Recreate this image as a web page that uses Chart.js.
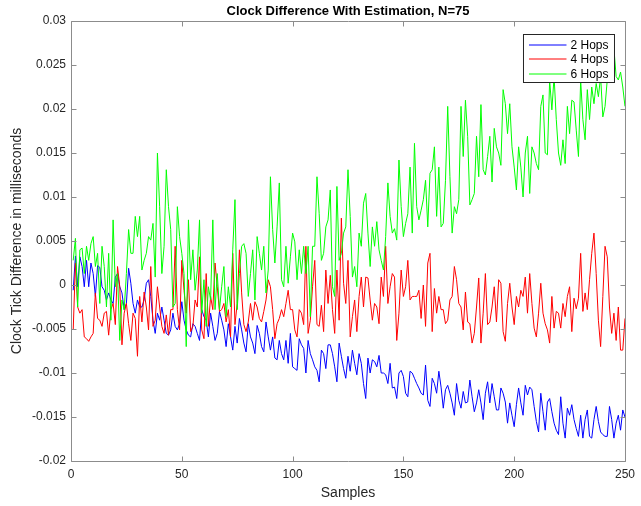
<!DOCTYPE html>
<html><head><meta charset="utf-8">
<script src="https://cdn.jsdelivr.net/npm/chart.js@4.4.1/dist/chart.umd.min.js"></script>
<style>html,body{margin:0;padding:0;background:#fff;}canvas{display:block;}</style>
</head><body>
<canvas id="c" width="641" height="506"></canvas>
<script>
const seriesNames = ['2 Hops', '4 Hops', '6 Hops'];
const hops2 = [
-0.0006,0.0033,-0.0002,0.0032,0.0021,-0.0002,0.0028,-0.0002,0.0025,0.0013,
-0.0013,0.0022,0.0020,-0.0002,-0.0006,-0.0017,-0.0009,-0.0017,-0.0021,0.0009,
0.0013,-0.0002,-0.0009,-0.0028,-0.0021,0.0019,0.0002,-0.0021,-0.0032,-0.0017,
-0.0025,-0.0025,-0.0017,0.0002,0.0006,-0.0013,-0.0040,-0.0055,-0.0032,-0.0040,
-0.0025,-0.0040,-0.0055,-0.0057,-0.0051,-0.0032,-0.0047,-0.0051,-0.0044,-0.0019,
-0.0040,-0.0051,-0.0057,-0.0059,-0.0044,-0.0047,-0.0055,-0.0063,-0.0028,-0.0036,
-0.0040,-0.0059,-0.0032,-0.0047,-0.0063,-0.0055,-0.0030,-0.0040,-0.0051,-0.0070,
-0.0044,-0.0059,-0.0074,-0.0047,-0.0066,-0.0038,-0.0051,-0.0066,-0.0076,-0.0044,
-0.0059,-0.0066,-0.0078,-0.0046,-0.0055,-0.0070,-0.0076,-0.0042,-0.0059,-0.0074,
-0.0059,-0.0083,-0.0085,-0.0063,-0.0078,-0.0085,-0.0063,-0.0089,-0.0055,-0.0093,
-0.0095,-0.0097,-0.0061,-0.0068,-0.0072,-0.0100,-0.0063,-0.0078,-0.0085,-0.0093,
-0.0097,-0.0110,-0.0074,-0.0078,-0.0095,-0.0068,-0.0068,-0.0078,-0.0093,-0.0110,
-0.0066,-0.0081,-0.0095,-0.0106,-0.0081,-0.0098,-0.0074,-0.0089,-0.0102,-0.0078,
-0.0089,-0.0112,-0.0129,-0.0083,-0.0100,-0.0085,-0.0087,-0.0093,-0.0080,-0.0100,
-0.0100,-0.0102,-0.0112,-0.0089,-0.0117,-0.0116,-0.0129,-0.0100,-0.0097,-0.0104,
-0.0123,-0.0127,-0.0098,-0.0100,-0.0106,-0.0112,-0.0117,-0.0123,-0.0125,-0.0091,
-0.0131,-0.0138,-0.0106,-0.0112,-0.0123,-0.0098,-0.0116,-0.0140,-0.0119,-0.0114,
-0.0123,-0.0134,-0.0148,-0.0112,-0.0131,-0.0140,-0.0121,-0.0134,-0.0133,-0.0108,
-0.0127,-0.0144,-0.0134,-0.0119,-0.0134,-0.0153,-0.0123,-0.0110,-0.0134,-0.0112,
-0.0127,-0.0142,-0.0142,-0.0117,-0.0123,-0.0133,-0.0157,-0.0134,-0.0148,-0.0161,
-0.0136,-0.0117,-0.0134,-0.0148,-0.0114,-0.0125,-0.0116,-0.0119,-0.0138,-0.0155,
-0.0167,-0.0123,-0.0144,-0.0165,-0.0133,-0.0129,-0.0144,-0.0157,-0.0165,-0.0170,
-0.0127,-0.0157,-0.0174,-0.0140,-0.0148,-0.0136,-0.0153,-0.0163,-0.0172,-0.0148,
-0.0174,-0.0153,-0.0142,-0.0172,-0.0174,-0.0153,-0.0138,-0.0155,-0.0167,-0.0170,
-0.0172,-0.0172,-0.0138,-0.0153,-0.0174,-0.0157,-0.0148,-0.0165,-0.0142,-0.0150
];
const hops4 = [
-0.0051,0.0025,-0.0025,-0.0032,-0.0028,-0.0059,-0.0061,-0.0064,-0.0059,-0.0055,
-0.0009,-0.0038,-0.0040,-0.0047,-0.0032,-0.0030,-0.0057,-0.0028,-0.0021,-0.0045,
0.0021,-0.0002,-0.0068,-0.0032,-0.0021,-0.0044,-0.0063,-0.0032,-0.0038,-0.0081,
-0.0013,-0.0042,-0.0008,-0.0025,-0.0051,0.0021,-0.0047,-0.0040,-0.0002,-0.0025,
-0.0047,-0.0055,-0.0034,-0.0057,-0.0028,-0.0028,0.0044,-0.0028,-0.0051,0.0028,
-0.0006,-0.0032,0.0006,-0.0053,-0.0047,-0.0017,-0.0025,0.0032,-0.0051,-0.0061,
0.0013,-0.0047,-0.0013,-0.0028,0.0025,-0.0002,-0.0030,-0.0028,-0.0021,-0.0042,
-0.0028,-0.0059,0.0036,-0.0045,-0.0021,0.0040,-0.0009,-0.0045,-0.0053,-0.0042,
-0.0021,-0.0040,-0.0019,-0.0025,-0.0038,-0.0042,-0.0030,-0.0017,0.0006,-0.0002,
-0.0028,-0.0061,-0.0044,-0.0038,-0.0028,-0.0036,-0.0021,-0.0006,-0.0028,-0.0028,
-0.0051,-0.0059,-0.0028,-0.0032,-0.0045,0.0044,-0.0055,-0.0040,-0.0002,0.0028,
-0.0045,-0.0047,-0.0023,-0.0053,0.0017,-0.0021,0.0011,-0.0028,-0.0055,0.0017,
-0.0040,0.0076,0.0002,-0.0021,0.0028,-0.0059,-0.0036,-0.0017,-0.0053,-0.0013,
0.0009,-0.0025,0.0009,0.0008,-0.0017,-0.0040,-0.0021,-0.0025,-0.0044,0.0009,
-0.0013,0.0044,-0.0021,-0.0002,0.0013,0.0009,-0.0063,-0.0032,0.0017,-0.0013,
-0.0002,0.0028,-0.0017,-0.0013,-0.0013,-0.0013,-0.0006,-0.0038,0.0000,-0.0047,
0.0025,0.0036,-0.0053,-0.0004,-0.0032,-0.0013,-0.0028,-0.0028,-0.0044,-0.0040,
-0.0017,-0.0013,0.0021,0.0006,-0.0021,-0.0025,-0.0051,-0.0008,-0.0042,-0.0044,
-0.0066,-0.0055,-0.0025,0.0008,-0.0066,-0.0032,0.0013,-0.0045,-0.0042,-0.0025,
-0.0002,-0.0042,0.0006,0.0002,-0.0053,-0.0064,-0.0021,0.0002,-0.0025,-0.0045,
-0.0013,-0.0025,-0.0006,-0.0013,0.0009,-0.0032,0.0013,-0.0021,-0.0049,-0.0059,
-0.0032,0.0002,-0.0032,-0.0044,-0.0051,-0.0066,-0.0013,-0.0049,-0.0030,-0.0032,
-0.0049,-0.0021,-0.0036,-0.0013,-0.0002,-0.0053,-0.0015,-0.0027,-0.0015,0.0036,
-0.0030,-0.0009,-0.0028,0.0006,0.0036,0.0059,0.0013,-0.0040,-0.0070,-0.0013,
0.0044,0.0032,-0.0025,-0.0055,-0.0032,-0.0063,-0.0025,-0.0074,-0.0074,-0.0038
];
const hops6 = [
0.0028,0.0053,-0.0025,0.0040,0.0042,0.0013,0.0044,0.0028,0.0047,0.0055,
0.0021,0.0036,-0.0021,0.0044,0.0021,-0.0025,0.0036,-0.0040,0.0074,-0.0002,
0.0013,-0.0063,-0.0017,-0.0028,0.0013,0.0063,0.0036,0.0036,0.0078,0.0055,
0.0078,0.0017,0.0028,0.0036,0.0055,0.0051,0.0070,0.0009,0.0150,0.0089,
0.0013,0.0044,0.0131,0.0089,0.0063,-0.0025,-0.0021,0.0089,0.0055,0.0036,
0.0013,-0.0070,0.0074,0.0006,0.0040,-0.0006,0.0017,0.0074,-0.0032,0.0006,
-0.0047,-0.0002,-0.0017,0.0074,-0.0028,0.0013,-0.0028,-0.0002,0.0021,-0.0036,
-0.0002,-0.0025,0.0040,0.0097,-0.0028,0.0013,0.0044,0.0047,0.0036,-0.0013,
0.0013,0.0040,-0.0017,0.0055,0.0036,0.0017,0.0044,-0.0009,0.0017,0.0123,
0.0063,0.0025,0.0066,0.0116,0.0006,-0.0002,0.0044,0.0002,0.0032,0.0059,
0.0049,0.0006,0.0040,0.0013,0.0044,0.0013,0.0044,-0.0036,0.0044,0.0044,
0.0123,0.0081,0.0028,0.0036,0.0066,0.0074,0.0108,-0.0002,-0.0013,0.0112,
0.0028,0.0036,0.0059,0.0066,0.0131,0.0078,0.0009,0.0021,-0.0002,0.0059,
0.0044,0.0093,0.0104,0.0059,0.0021,0.0066,0.0044,0.0072,0.0040,0.0028,
0.0017,0.0055,0.0116,0.0078,0.0059,0.0064,0.0051,0.0142,0.0089,0.0055,
0.0070,0.0081,0.0134,0.0059,0.0161,0.0089,0.0074,0.0085,0.0097,0.0119,
0.0066,0.0127,0.0131,0.0157,0.0078,0.0134,0.0066,0.0070,0.0119,0.0203,
0.0123,0.0059,0.0089,0.0081,0.0097,0.0203,0.0146,0.0210,0.0169,0.0091,
0.0097,0.0104,0.0169,0.0123,0.0205,0.0131,0.0125,0.0146,0.0169,0.0117,
0.0178,0.0157,0.0150,0.0136,0.0222,0.0206,0.0172,0.0206,0.0157,0.0134,
0.0108,0.0157,0.0134,0.0100,0.0150,0.0169,0.0104,0.0157,0.0150,0.0138,
0.0131,0.0203,0.0216,0.0150,0.0148,0.0233,0.0199,0.0237,0.0188,0.0150,
0.0136,0.0165,0.0138,0.0203,0.0172,0.0210,0.0208,0.0176,0.0146,0.0233,
0.0188,0.0165,0.0222,0.0188,0.0225,0.0206,0.0229,0.0214,0.0237,0.0191,
0.0203,0.0233,0.0248,0.0267,0.0269,0.0237,0.0233,0.0242,0.0225,0.0203
];
const xTicks = [0, 50, 100, 150, 200, 250];
const xTickLabels = ['0', '50', '100', '150', '200', '250'];
const yTicks = [-0.02, -0.015, -0.01, -0.005, 0, 0.005, 0.01, 0.015, 0.02, 0.025, 0.03];
const yTickLabels = ['-0.02', '-0.015', '-0.01', '-0.005', '0', '0.005', '0.01', '0.015', '0.02', '0.025', '0.03'];
const titleText = 'Clock Difference With Estimation, N=75';
const xTitle = 'Samples';
const yTitle = 'Clock Tick Difference in milliseconds';
const colors = ['#0000ff', '#ff0000', '#00ff00'];

const toPoints = arr => arr.map((v, i) => ({x: i + 1, y: v}));

Chart.defaults.font.family = '"Liberation Sans", Arial, Helvetica, sans-serif';

const framePlugin = {
  id: 'matlabFrame',
  afterDatasetsDraw(chart) {
    const ctx = chart.ctx;
    const a = chart.chartArea;
    const xs = chart.scales.x, ys = chart.scales.y;
    ctx.save();
    ctx.strokeStyle = '#8c8c8c';
    ctx.lineWidth = 1;
    const L = a.left + 0.5, R = a.right + 0.5, T = a.top + 0.5, B = a.bottom + 0.5;
    ctx.beginPath();
    ctx.rect(L, T, R - L, B - T);
    ctx.stroke();
    const tk = 5;
    ctx.beginPath();
    xTicks.forEach(v => {
      const px = Math.round(xs.getPixelForValue(v)) + 0.5;
      ctx.moveTo(px, B); ctx.lineTo(px, B - tk);
      ctx.moveTo(px, T); ctx.lineTo(px, T + tk);
    });
    yTicks.forEach(v => {
      const py = Math.round(ys.getPixelForValue(v)) + 0.5;
      ctx.moveTo(L, py); ctx.lineTo(L + tk, py);
      ctx.moveTo(R, py); ctx.lineTo(R - tk, py);
    });
    ctx.stroke();
    // legend
    const bx = a.right - 101.5, by = a.top + 13.5, bw = 91, bh = 48;
    ctx.fillStyle = '#ffffff';
    ctx.fillRect(bx, by, bw, bh);
    ctx.strokeStyle = '#262626';
    ctx.strokeRect(bx, by, bw, bh);
    ctx.font = '12px "Liberation Sans", Arial, Helvetica, sans-serif';
    ctx.textBaseline = 'middle';
    ctx.textAlign = 'left';
    seriesNames.forEach((name, i) => {
      const ly = Math.round(by + 10 + i * 14.6);
      ctx.strokeStyle = colors[i];
      ctx.lineWidth = 1;
      ctx.beginPath();
      ctx.moveTo(bx + 5.5, ly); ctx.lineTo(bx + 43, ly);
      ctx.stroke();
      ctx.fillStyle = '#000000';
      ctx.fillText(name, bx + 47, ly + 0.5);
    });
    ctx.restore();
  }
};

new Chart(document.getElementById('c'), {
  type: 'line',
  data: {
    datasets: [
      {label: seriesNames[0], data: toPoints(hops2), borderColor: colors[0], order: 3},
      {label: seriesNames[1], data: toPoints(hops4), borderColor: colors[1], order: 2},
      {label: seriesNames[2], data: toPoints(hops6), borderColor: colors[2], order: 1}
    ]
  },
  options: {
    responsive: false,
    animation: false,
    devicePixelRatio: 1,
    elements: {
      line: {borderWidth: 1, tension: 0, fill: false},
      point: {radius: 0, hoverRadius: 0}
    },
    layout: {padding: {left: 0, right: 14, top: 0, bottom: 0}},
    plugins: {
      legend: {display: false},
      tooltip: {enabled: false},
      title: {
        display: true, text: titleText, fullSize: false,
        color: '#000000',
        font: {size: 13, weight: 'bold'},
        padding: {top: 3.5, bottom: 1.9}
      }
    },
    scales: {
      x: {
        type: 'linear', min: 0, max: 250,
        afterBuildTicks: s => { s.ticks = xTicks.map(v => ({value: v})); },
        afterFit: s => { s.height = 45; },
        ticks: {
          callback: (v, i) => xTickLabels[i],
          color: '#262626', font: {size: 12}, padding: 6,
          maxRotation: 0, autoSkip: false
        },
        grid: {display: false, drawTicks: false},
        border: {display: false},
        title: {display: true, text: xTitle, color: '#262626', font: {size: 14}, padding: {top: 0, bottom: 4.6}}
      },
      y: {
        type: 'linear', min: -0.02, max: 0.03,
        afterBuildTicks: s => { s.ticks = yTicks.map(v => ({value: v})); },
        afterFit: s => { s.width = 71; },
        ticks: {
          callback: (v, i) => yTickLabels[i],
          color: '#262626', font: {size: 12}, padding: 5, autoSkip: false
        },
        grid: {display: false, drawTicks: false},
        border: {display: false},
        title: {display: true, text: yTitle, color: '#262626', font: {size: 14}, padding: {top: 9, bottom: 0}}
      }
    }
  },
  plugins: [framePlugin]
});
</script>
</body></html>
